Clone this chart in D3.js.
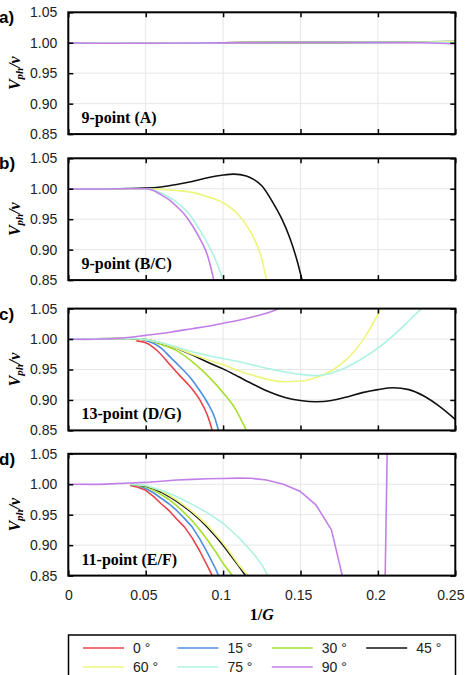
<!DOCTYPE html>
<html>
<head>
<meta charset="utf-8">
<script src="https://cdn.jsdelivr.net/npm/d3@7"></script>
<style>
  body { margin: 0; background: #fff; }
  svg { display: block; }
</style>
</head>
<body>
<div id="chart"></div>
<script>
// legend order
const angles = ["0°", "15°", "30°", "45°", "60°", "75°", "90°"];
const colors = ["#e8434b", "#4f8fe0", "#a6e02c", "#111111", "#eef57c", "#adf3e2", "#c27fea"];

const xTicks = [0, 0.05, 0.1, 0.15, 0.2, 0.25];
const yTicks = [0.85, 0.9, 0.95, 1.0, 1.05];

// panel a) 9-point (A) -- everything sits on 1.0
const a0  = [[0, 1.0], [0.05, 0.9995], [0.1, 1.0], [0.15, 1.0005], [0.2, 1.0005], [0.25, 1.001]];
const a15 = [[0, 1.0], [0.05, 0.9995], [0.1, 1.0], [0.15, 1.0005], [0.2, 1.0006], [0.25, 1.0012]];
const a30 = [[0, 1.0], [0.05, 0.9995], [0.1, 1.0], [0.15, 1.0005], [0.2, 1.0007], [0.25, 1.0015]];
const a45 = [[0, 1.0], [0.05, 0.9995], [0.1, 1.0], [0.15, 1.0005], [0.2, 1.0008], [0.25, 1.0018]];
const a60 = [[0, 1.0], [0.05, 0.9995], [0.1, 1.0], [0.15, 1.0005], [0.2, 1.0008], [0.23, 1.0012], [0.25, 1.002]];
const a75 = [[0, 1.0], [0.05, 0.9995], [0.1, 1.0], [0.15, 1.0005], [0.2, 1.0006], [0.25, 1.0005]];
const a90 = [[0, 1.0], [0.02, 0.9992], [0.05, 0.9993], [0.1, 0.9998], [0.15, 1.0003], [0.2, 1.0005], [0.23, 1.0], [0.25, 0.998]];

// panel b) 9-point (B/C) -- 0/15/30 deg not visible
const b45 = [[0, 1.0], [0.02, 0.9995], [0.04, 1.0005], [0.05, 1.001], [0.06, 1.003], [0.07, 1.007], [0.08, 1.012],
  [0.09, 1.018], [0.1, 1.0225], [0.107, 1.024], [0.115, 1.021], [0.12, 1.015], [0.125, 1.005], [0.132, 0.978],
  [0.138, 0.95], [0.143, 0.92], [0.148, 0.88], [0.151, 0.85]];
const b60 = [[0, 1.0], [0.02, 0.9995], [0.04, 1.0005], [0.05, 1.0], [0.06, 0.999], [0.07, 0.997], [0.08, 0.994],
  [0.09, 0.987], [0.1, 0.977], [0.11, 0.957], [0.12, 0.918], [0.125, 0.885], [0.128, 0.85]];
const b75 = [[0, 1.0], [0.02, 0.9995], [0.04, 1.0005], [0.05, 1.0], [0.055, 0.998], [0.06, 0.993], [0.065, 0.986],
  [0.07, 0.978], [0.075, 0.967], [0.08, 0.952], [0.085, 0.932], [0.09, 0.91], [0.095, 0.884], [0.1, 0.85]];
const b90 = [[0, 1.0], [0.02, 0.9995], [0.04, 1.0005], [0.05, 1.0], [0.055, 0.997], [0.06, 0.99], [0.065, 0.982],
  [0.07, 0.971], [0.075, 0.958], [0.08, 0.94], [0.085, 0.918], [0.09, 0.89], [0.094, 0.85]];

// panel c) 13-point (D/G)
const c0  = [[0.044, 0.997], [0.05, 0.994], [0.057, 0.982], [0.066, 0.957], [0.072, 0.94], [0.079, 0.921],
  [0.085, 0.9], [0.09, 0.874], [0.093, 0.85]];
const c15 = [[0.048, 0.999], [0.055, 0.993], [0.06, 0.985], [0.066, 0.97], [0.072, 0.955], [0.079, 0.936],
  [0.085, 0.915], [0.09, 0.895], [0.095, 0.868], [0.097, 0.85]];
const c30 = [[0.04, 1.0], [0.05, 0.999], [0.06, 0.991], [0.07, 0.981], [0.08, 0.963], [0.09, 0.94], [0.1, 0.912],
  [0.108, 0.885], [0.115, 0.85]];
const c45 = [[0, 1.0], [0.03, 1.001], [0.04, 1.001], [0.05, 0.999], [0.06, 0.993], [0.07, 0.985], [0.08, 0.974],
  [0.09, 0.962], [0.1, 0.951], [0.11, 0.938], [0.12, 0.925], [0.13, 0.913], [0.14, 0.904], [0.15, 0.899],
  [0.16, 0.897], [0.17, 0.899], [0.18, 0.905], [0.19, 0.912], [0.2, 0.917], [0.21, 0.92], [0.22, 0.917],
  [0.23, 0.906], [0.24, 0.889], [0.25, 0.868]];
const c60 = [[0, 1.0], [0.03, 1.001], [0.04, 1.001], [0.05, 0.999], [0.06, 0.993], [0.07, 0.985], [0.08, 0.975],
  [0.09, 0.966], [0.1, 0.958], [0.11, 0.948], [0.12, 0.94], [0.13, 0.933], [0.14, 0.930], [0.15, 0.931],
  [0.16, 0.937], [0.17, 0.948], [0.18, 0.967], [0.19, 0.997], [0.196, 1.022], [0.202, 1.05]];
const c75 = [[0, 1.0], [0.03, 1.001], [0.04, 1.001], [0.05, 0.999], [0.06, 0.994], [0.07, 0.987], [0.08, 0.979],
  [0.09, 0.973], [0.1, 0.968], [0.11, 0.963], [0.12, 0.957], [0.13, 0.951], [0.14, 0.946], [0.15, 0.942],
  [0.16, 0.940], [0.17, 0.944], [0.18, 0.954], [0.19, 0.968], [0.2, 0.985], [0.21, 1.006], [0.22, 1.03], [0.228, 1.05]];
const c90 = [[0, 1.0], [0.01, 0.9995], [0.02, 1.0], [0.03, 1.001], [0.04, 1.003], [0.05, 1.006], [0.06, 1.009],
  [0.07, 1.013], [0.08, 1.017], [0.09, 1.021], [0.1, 1.026], [0.11, 1.031], [0.12, 1.037], [0.13, 1.044], [0.136, 1.05]];

// panel d) 11-point (E/F) -- 90 deg has a second branch near 1/G = 0.205
const d0  = [[0.04, 0.998], [0.045, 0.995], [0.05, 0.99], [0.055, 0.98], [0.06, 0.968], [0.065, 0.957], [0.07, 0.943],
  [0.075, 0.93], [0.08, 0.912], [0.085, 0.89], [0.09, 0.865], [0.093, 0.85]];
const d15 = [[0.04, 1.0], [0.045, 0.998], [0.05, 0.993], [0.055, 0.986], [0.06, 0.977], [0.065, 0.968], [0.07, 0.957],
  [0.075, 0.944], [0.08, 0.93], [0.085, 0.91], [0.09, 0.887], [0.095, 0.862], [0.097, 0.85]];
const d30 = [[0.04, 1.0], [0.05, 0.996], [0.055, 0.99], [0.06, 0.983], [0.065, 0.975], [0.07, 0.965], [0.075, 0.953],
  [0.08, 0.94], [0.085, 0.925], [0.09, 0.908], [0.095, 0.89], [0.1, 0.87], [0.106, 0.85]];
const d45 = [[0.04, 1.0], [0.05, 0.997], [0.055, 0.993], [0.06, 0.987], [0.065, 0.98], [0.07, 0.972], [0.075, 0.963],
  [0.08, 0.953], [0.085, 0.942], [0.09, 0.929], [0.095, 0.915], [0.1, 0.9], [0.105, 0.883], [0.11, 0.866], [0.1145, 0.85]];
const d60 = [[0.04, 1.0], [0.05, 0.998], [0.055, 0.994], [0.06, 0.989], [0.065, 0.982], [0.07, 0.974], [0.075, 0.965],
  [0.08, 0.955], [0.085, 0.944], [0.09, 0.932], [0.095, 0.918], [0.1, 0.903], [0.105, 0.886], [0.11, 0.868], [0.116, 0.85]];
const d75 = [[0.04, 1.0], [0.05, 0.998], [0.06, 0.99], [0.07, 0.98], [0.08, 0.967], [0.09, 0.953], [0.1, 0.936],
  [0.11, 0.913], [0.12, 0.885], [0.125, 0.868], [0.129, 0.85]];
const d90 = [[0, 1.0], [0.02, 0.9998], [0.04, 1.002], [0.05, 1.003], [0.06, 1.005], [0.07, 1.007], [0.08, 1.008],
  [0.09, 1.009], [0.1, 1.0095], [0.11, 1.01], [0.118, 1.0098], [0.128, 1.007], [0.139, 1.0], [0.15, 0.988],
  [0.16, 0.966], [0.17, 0.925], [0.177, 0.85], null, [0.2047, 0.85], [0.206, 1.05]];

const panels = [
  { tag: "a)", name: "9-point (A)", series: [a0, a15, a30, a45, a60, a75, a90], top: 12.3, smooth: true },
  { tag: "b)", name: "9-point (B/C)", series: [null, null, null, b45, b60, b75, b90], top: 158.3, smooth: true },
  { tag: "c)", name: "13-point (D/G)", series: [c0, c15, c30, c45, c60, c75, c90], top: 308.6, smooth: true },
  { tag: "d)", name: "11-point (E/F)", series: [d0, d15, d30, d45, d60, d75, d90], top: 453.8, smooth: false }
];

const width = 465, height = 675;
const panelH = 121.8;
const serif = "'Liberation Serif', 'Times New Roman', serif";
const sans = "'Liberation Sans', Arial, sans-serif";

const x = d3.scaleLinear().domain([0, 0.25]).range([68.3, 455.3]);

const svg = d3.select("#chart").append("svg")
    .attr("width", width)
    .attr("height", height);

panels.forEach((p, i) => {
    const y = d3.scaleLinear().domain([0.85, 1.05]).range([p.top + panelH, p.top]);
    const g = svg.append("g");
    const clipId = "clip" + i;

    g.append("clipPath").attr("id", clipId)
      .append("rect")
        .attr("x", x(0)).attr("y", p.top)
        .attr("width", x(0.25) - x(0)).attr("height", panelH);

    // grid
    g.append("g").selectAll("line")
      .data([0.05, 0.1, 0.15, 0.2])
      .join("line")
        .attr("x1", d => x(d)).attr("x2", d => x(d))
        .attr("y1", p.top).attr("y2", p.top + panelH)
        .attr("stroke", "#e6e6e6");
    g.append("g").selectAll("line")
      .data([0.9, 0.95, 1.0])
      .join("line")
        .attr("x1", x(0)).attr("x2", x(0.25))
        .attr("y1", d => y(d)).attr("y2", d => y(d))
        .attr("stroke", "#e6e6e6");

    // curves
    const line = d3.line()
        .defined(d => d !== null)
        .x(d => x(d[0]))
        .y(d => y(d[1]))
        .curve(p.smooth ? d3.curveMonotoneX : d3.curveLinear);

    g.append("g")
        .attr("clip-path", `url(#${clipId})`)
      .selectAll("path")
      .data(p.series.map((s, k) => ({ s, k })).filter(d => d.s))
      .join("path")
        .attr("fill", "none")
        .attr("stroke", d => colors[d.k])
        .attr("stroke-width", 1.6)
        .attr("stroke-linejoin", "round")
        .attr("d", d => line(d.s));

    // axes, ticks pointing inward
    const left = g.append("g")
        .attr("transform", `translate(${x(0)},0)`)
        .call(d3.axisLeft(y).tickValues(yTicks).tickFormat(d3.format(".2f"))
            .tickSizeInner(-5).tickSizeOuter(0).tickPadding(11));
    g.append("g")
        .attr("transform", `translate(${x(0.25)},0)`)
        .call(d3.axisRight(y).tickValues(yTicks).tickFormat("")
            .tickSizeInner(-5).tickSizeOuter(0));
    g.append("g")
        .attr("transform", `translate(0,${p.top})`)
        .call(d3.axisTop(x).tickValues(xTicks).tickFormat("")
            .tickSizeInner(-5).tickSizeOuter(0));
    const bottom = g.append("g")
        .attr("transform", `translate(0,${p.top + panelH})`)
        .call(d3.axisBottom(x).tickValues(xTicks)
            .tickFormat(i === panels.length - 1 ? d => d : "")
            .tickSizeInner(-5).tickSizeOuter(0).tickPadding(14));

    [left, bottom].forEach(ax => ax.selectAll("text")
        .attr("fill", "#222")
        .style("font", `14px ${sans}`));
    // bottom labels sit a little left of their ticks, last one kept in the window
    bottom.selectAll("text").attr("dx", d => d === 0 ? 0 : d === 0.25 ? -5 : -2.4);
    g.selectAll(".domain").remove();
    g.selectAll(".tick line").attr("stroke", "#000").attr("stroke-width", 1.5);

    // frame
    g.append("rect")
        .attr("x", x(0)).attr("y", p.top)
        .attr("width", x(0.25) - x(0)).attr("height", panelH)
        .attr("fill", "none")
        .attr("stroke", "#000")
        .attr("stroke-width", 2);

    // panel tag
    g.append("text")
        .attr("x", -1).attr("y", p.top + 11)
        .style("font", `bold 17px ${sans}`)
        .text(p.tag);

    // inside label
    g.append("text")
        .attr("x", 81.5).attr("y", p.top + panelH - 11)
        .style("font", `bold 16px ${serif}`)
        .text(p.name);

    // y title
    const yt = g.append("text")
        .attr("transform", `translate(20,${p.top + panelH / 2}) rotate(-90)`)
        .attr("text-anchor", "middle")
        .style("font", `italic bold 16px ${serif}`);
    yt.append("tspan").text("V");
    yt.append("tspan").attr("dy", 3).style("font-size", "11px").text("ph");
    yt.append("tspan").attr("dy", -3).text("/v");
});

// x title
const xt = svg.append("text")
    .attr("x", (x(0) + x(0.25)) / 2)
    .attr("y", 620)
    .attr("text-anchor", "middle")
    .style("font", `bold 16px ${serif}`);
xt.append("tspan").text("1/");
xt.append("tspan").style("font-style", "italic").text("G");

// legend
const legend = svg.append("g");
legend.append("rect")
    .attr("x", 68.5).attr("y", 635)
    .attr("width", 387).attr("height", 60)
    .attr("fill", "#fff")
    .attr("stroke", "#000")
    .attr("stroke-width", 1.5);

const item = legend.selectAll("g.item")
  .data(angles.map((a, k) => ({ a, k })))
  .join("g")
    .attr("class", "item")
    .attr("transform", d => `translate(${83 + (d.k % 4) * 94.4},${648 + Math.floor(d.k / 4) * 19})`);

item.append("line")
    .attr("x1", 0).attr("x2", 41)
    .attr("stroke", d => colors[d.k])
    .attr("stroke-width", 1.6);
item.append("text")
    .attr("x", 50).attr("dy", "0.35em")
    .attr("fill", "#222")
    .style("font", `14px ${sans}`)
    .text(d => d.a.replace("°", " °"));
</script>
</body>
</html>
